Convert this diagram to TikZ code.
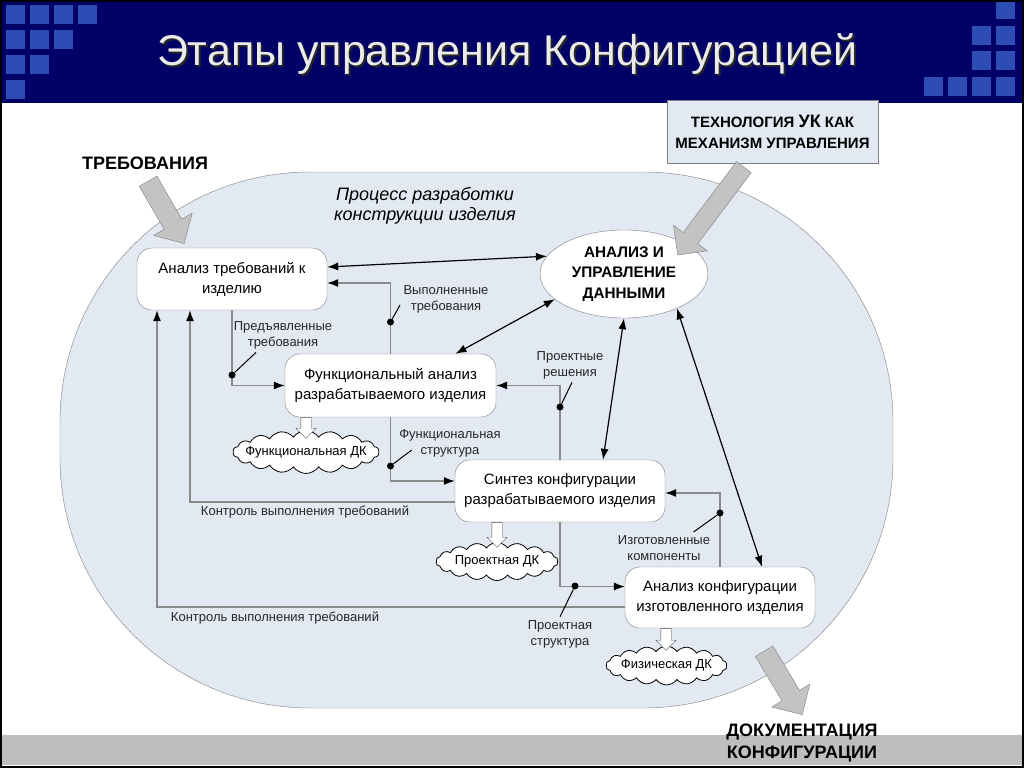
\documentclass[tikz,border=0pt]{standalone}
\usepackage{fontspec}
\setmainfont{Liberation Sans}
\usetikzlibrary{arrows.meta,shapes.arrows,shapes.geometric,shapes.symbols}
\definecolor{barcolor}{HTML}{000066}
\definecolor{squarecolor}{HTML}{2D4DB4}
\definecolor{fieldcolor}{HTML}{E3E9F3}
\definecolor{edgecolor}{HTML}{7F7F7F}
\definecolor{flowcolor}{HTML}{8A8A8A}
\definecolor{bigarrowcolor}{HTML}{C3C3C3}
\definecolor{footcolor}{HTML}{BEBEBE}
\tikzset{
  stage/.style={draw=edgecolor, fill=white, rounded corners=15pt, align=center, font=\fontsize{15}{20}\selectfont},
  flow/.style={draw=flowcolor, line width=1.2pt, -{Latex[length=11pt,width=8pt,color=black,fill=black]}},
  link/.style={black, line width=1.2pt, {Latex[length=11pt,width=8pt]}-{Latex[length=11pt,width=8pt]}},
  tap/.style={circle, fill=black, inner sep=0pt, minimum size=7pt},
  tag/.style={align=center, text=black!85, font=\fontsize{13}{16}\selectfont},
  dk/.style={cloud, cloud puffs=18, cloud puff arc=110, cloud ignores aspect, draw=black, fill=white, line width=0.8pt, inner xsep=-22pt, inner ysep=6pt, minimum height=36pt, font=\fontsize{13}{15}\selectfont},
  outarrow/.style={single arrow, draw=black!70, fill=white, rotate=-90, anchor=tail, inner xsep=0pt, inner ysep=5pt, single arrow head extend=5pt},
  bigarrow/.style={single arrow, draw=edgecolor, fill=bigarrowcolor, anchor=tail, inner xsep=0pt, inner ysep=10pt, single arrow head extend=12pt},
  caps/.style={font=\bfseries\fontsize{18}{22}\selectfont, align=center}
}

\begin{document}
\begin{tikzpicture}[x=1pt,y=-1pt]
\useasboundingbox (0,0) rectangle (1024,768);
% slide
\fill[white] (0,0) rectangle (1024,768);
\fill[barcolor] (0,0) rectangle (1024,103);
\fill[footcolor] (0,735) rectangle (1024,765);
\foreach \x/\y in {6/5,30/5,54/5,78/5,6/30,30/30,54/30,6/55,30/55,6/80}
  \fill[squarecolor] (\x,\y) rectangle ++(19,19);
\foreach \x/\y in {996/0,972/26,996/26,972/51,996/51,924/77,948/77,972/77,996/77}
  \fill[squarecolor] (\x,\y) rectangle ++(19,19);
\node[font=\fontsize{43}{43}\selectfont, text=black!85, anchor=base] (shadow) at (509,67) {Этапы управления Конфигурацией};
\node[font=\fontsize{43}{43}\selectfont, text=white!92!black, anchor=base] (title) at (507,65) {Этапы управления Конфигурацией};

% process field
\draw[edgecolor, fill=fieldcolor, rounded corners=250pt] (60,172) rectangle (893,708);
\node[font=\itshape\fontsize{18}{20}\selectfont, align=center] (proc) at (425,206) {Процесс разработки\\конструкции изделия};

\node[stage, minimum width=190pt, minimum height=62pt] (req) at (232,279) {Анализ требований к\\изделию};
\node[ellipse, draw=edgecolor, fill=white, inner sep=0pt, minimum width=168pt, minimum height=88pt, align=center, font=\bfseries\fontsize{15.3}{20.5}\selectfont] (data) at (624,274) {АНАЛИЗ И\\УПРАВЛЕНИЕ\\ДАННЫМИ};
\node[stage, minimum width=211pt, minimum height=63pt] (func) at (390.5,385.5) {Функциональный анализ\\разрабатываемого изделия};
\node[stage, minimum width=210pt, minimum height=62pt] (synth) at (560,491) {Синтез конфигурации\\разрабатываемого изделия};
\node[stage, minimum width=190pt, minimum height=61pt] (phys) at (720,597.5) {Анализ конфигурации\\изготовленного изделия};

\node[dk, minimum width=146pt] (fdk) at (306,452) {Функциональная ДК};
\node[dk, minimum width=122pt] (pdk) at (497,561.5) {Проектная ДК};
\node[dk, minimum width=121pt] (phdk) at (666.5,665.5) {Физическая ДК};
\node[outarrow, minimum height=21pt] (fdkarr) at ([xshift=-84.5pt]func.south) {};
\node[outarrow, minimum height=25pt] (pdkarr) at ([xshift=-63pt]synth.south) {};
\node[outarrow, minimum height=22pt] (phdkarr) at ([xshift=-54pt]phys.south) {};

% information flows
\draw[flow] (func.north) |- ([yshift=-4pt]req.east);
\draw[flow] (req.south) |- (func.west);
\draw[flow] ([yshift=-11pt]synth.west) -| ([xshift=-42pt]req.south);
\draw[flow] ([yshift=-9.5pt]phys.west) -| ([xshift=-75pt]req.south);
\draw[flow] (synth.north) |- (func.east);
\draw[flow] (func.south) |- ([yshift=10pt]synth.west);
\draw[flow] (phys.north) |- ([yshift=-2pt]synth.east);
\draw[flow] (synth.south) |- ([yshift=11pt]phys.west);

\draw[link] ([yshift=12pt]req.east) -- (data.167);
\draw[link] ([xshift=65pt]func.north) -- (data.200);
\draw[link] (data.south) -- ([xshift=43pt]synth.north);
\draw[link] (data.-33) -- ([xshift=42pt]phys.north);

\node[tap] (t1) at (390.5,322) {};
\node[tag] (l1) at (446,299) {Выполненные\\требования};
\draw[line width=1pt] (t1) -- ([yshift=-6pt]l1.west);
\node[tap] (t2) at (232,375) {};
\node[tag] (l2) at (283,335) {Предъявленные\\требования};
\draw[line width=1pt] (t2) -- ([xshift=-27pt]l2.south);
\node[tap] (t3) at (560,407) {};
\node[tag] (l3) at (570,365) {Проектные\\решения};
\draw[line width=1pt] (t3) -- ([xshift=2pt]l3.south);
\node[tap] (t4) at (390.5,466) {};
\node[tag] (l4) at (450,443) {Функциональная\\структура};
\draw[line width=1pt] (t4) -- ([shift={(16pt,-7pt)}]l4.west);
\node[tap] (t5) at (720,513) {};
\node[tag] (l5) at (664,548) {Изготовленные\\компоненты};
\draw[line width=1pt] (t5) -- ([xshift=-20pt]l5.north east);
\node[tap] (t6) at (575,586) {};
\node[tag] (l6) at (560,634) {Проектная\\структура};
\draw[line width=1pt] (t6) -- (l6.north);
\node[tag] (c1) at (305,512) {Контроль выполнения требований};
\node[tag] (c2) at (275,618) {Контроль выполнения требований};

% inputs and outputs
\node[caps] (reqin) at (145,163) {ТРЕБОВАНИЯ};
\node[bigarrow, rotate=-60, minimum height=72pt] (reqarr) at (148,181) {};
\node[draw=edgecolor, fill=fieldcolor, minimum width=211pt, minimum height=63pt, align=center, font=\bfseries\fontsize{15}{21}\selectfont] (tech) at (772.5,131.5) {ТЕХНОЛОГИЯ {\fontsize{18}{21}\selectfont УК} КАК\\МЕХАНИЗМ УПРАВЛЕНИЯ};
\node[bigarrow, rotate=-127, minimum height=110pt, inner ysep=9pt] (techarr) at (744,167) {};
\node[bigarrow, rotate=-59, minimum height=74pt] (docarr) at (764,651) {};
\node[caps] (docout) at (802,743) {ДОКУМЕНТАЦИЯ\\КОНФИГУРАЦИИ};

\draw[black, line width=2pt] (1,1) rectangle (1023,767);
\end{tikzpicture}
\end{document}
